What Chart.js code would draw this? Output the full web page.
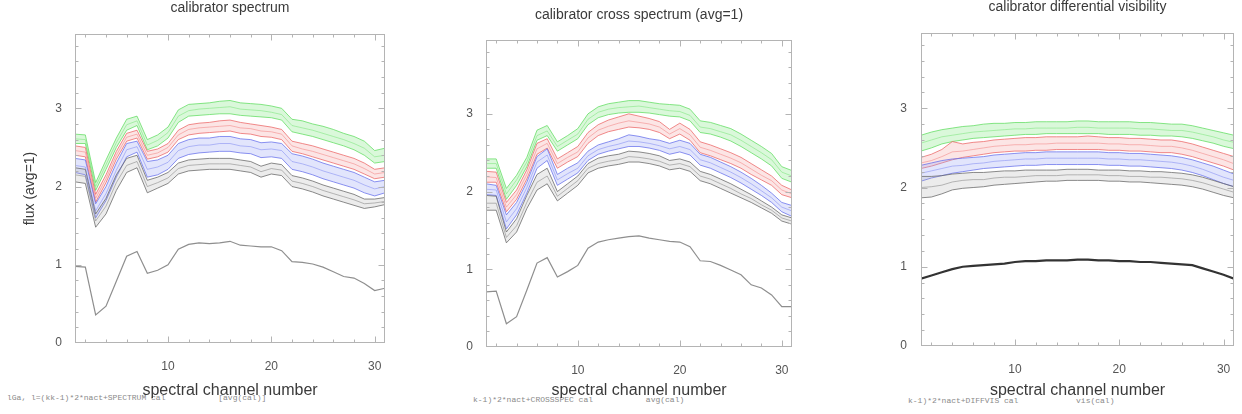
<!DOCTYPE html>
<html>
<head>
<meta charset="utf-8">
<script src="https://cdn.jsdelivr.net/npm/chart.js@4.4.1/dist/chart.umd.min.js"></script>
<style>
html, body { margin: 0; padding: 0; background: #fff; overflow: hidden; }
#wrap { position: relative; width: 1242px; height: 414px; }
.panel { position: absolute; top: 0; height: 414px; }
.note { position: absolute; font: 8px "Liberation Mono", "DejaVu Sans Mono", monospace; color: #8a8a8a; white-space: pre; }
</style>
</head>
<body>
<div id="wrap">
  <div class="note" style="left:7px;top:393px">lGa, l=(kk-1)*2*nact+SPECTRUM cal           [avg(cal)]</div>
  <div class="note" style="left:473px;top:395px">k-1)*2*nact+CROSSSPEC cal           avg(cal)</div>
  <div class="note" style="left:908px;top:396px">k-1)*2*nact+DIFFVIS cal            vis(cal)</div>
  <div class="panel" style="left:0;width:420px"><canvas id="c1" width="420" height="414"></canvas></div>
  <div class="panel" style="left:420px;width:420px"><canvas id="c2" width="420" height="414"></canvas></div>
  <div class="panel" style="left:840px;width:402px"><canvas id="c3" width="402" height="414"></canvas></div>
</div>
<script>
// spectral channels and axis labels
const channels = [1,2,3,4,5,6,7,8,9,10,11,12,13,14,15,16,17,18,19,20,21,22,23,24,25,26,27,28,29,30,31];
const xTickLabels = [10, 20, 30];
const yTickLabels = [0, 1, 2, 3];
const xTickMarks = [2,4,6,8,10,12,14,16,18,20,22,24,26,28,30];

// --- panel 1: calibrator spectrum (upper, middle, lower line of each colour band) ---
const specGreenHi = [2.67,2.66,2.05,2.34,2.62,2.86,2.90,2.60,2.66,2.76,2.98,3.05,3.06,3.07,3.09,3.10,3.07,3.06,3.05,3.03,3.00,2.86,2.84,2.80,2.77,2.73,2.68,2.64,2.58,2.46,2.49];
const specGreenMid = [2.61,2.60,2.00,2.28,2.56,2.79,2.84,2.53,2.59,2.69,2.90,2.97,2.99,3.00,3.01,3.02,2.99,2.98,2.97,2.95,2.92,2.78,2.75,2.72,2.68,2.64,2.60,2.55,2.49,2.38,2.40];
const specGreenLo = [2.55,2.55,1.95,2.22,2.50,2.72,2.78,2.47,2.52,2.62,2.82,2.90,2.91,2.92,2.93,2.93,2.91,2.90,2.89,2.88,2.85,2.70,2.67,2.64,2.60,2.56,2.52,2.47,2.40,2.30,2.32];
const specRedHi = [2.52,2.50,1.90,2.15,2.45,2.68,2.72,2.45,2.48,2.55,2.72,2.79,2.81,2.82,2.84,2.85,2.82,2.80,2.78,2.76,2.73,2.58,2.55,2.52,2.48,2.44,2.40,2.36,2.30,2.22,2.24];
const specRedMid = [2.46,2.44,1.85,2.10,2.40,2.63,2.67,2.40,2.43,2.50,2.66,2.73,2.75,2.76,2.77,2.78,2.75,2.74,2.71,2.70,2.67,2.52,2.48,2.45,2.41,2.37,2.33,2.29,2.23,2.16,2.18];
const specRedLo = [2.40,2.38,1.80,2.05,2.35,2.58,2.62,2.35,2.38,2.44,2.60,2.66,2.68,2.69,2.70,2.71,2.68,2.67,2.64,2.63,2.60,2.45,2.42,2.38,2.34,2.30,2.26,2.22,2.16,2.10,2.12];
const specBlueHi = [2.36,2.34,1.78,2.00,2.30,2.55,2.58,2.32,2.34,2.40,2.55,2.60,2.62,2.62,2.64,2.64,2.61,2.60,2.56,2.57,2.55,2.42,2.39,2.35,2.30,2.26,2.22,2.18,2.12,2.06,2.08];
const specBlueMid = [2.27,2.25,1.69,1.91,2.21,2.47,2.51,2.22,2.25,2.31,2.46,2.51,2.53,2.53,2.55,2.55,2.52,2.51,2.47,2.48,2.46,2.32,2.29,2.25,2.20,2.16,2.12,2.08,2.02,1.97,2.00];
const specBlueLo = [2.18,2.15,1.60,1.82,2.12,2.38,2.44,2.12,2.15,2.22,2.36,2.41,2.43,2.44,2.45,2.45,2.43,2.42,2.37,2.38,2.36,2.22,2.19,2.15,2.10,2.06,2.02,1.98,1.92,1.88,1.92];
const specBlackHi = [2.24,2.22,1.65,1.85,2.15,2.36,2.40,2.08,2.12,2.18,2.30,2.34,2.35,2.36,2.36,2.36,2.34,2.32,2.26,2.30,2.28,2.14,2.11,2.07,2.02,1.98,1.94,1.90,1.84,1.84,1.86];
const specBlackMid = [2.15,2.13,1.56,1.75,2.05,2.27,2.32,2.00,2.05,2.11,2.23,2.27,2.28,2.29,2.29,2.29,2.27,2.25,2.19,2.23,2.21,2.07,2.04,2.00,1.95,1.91,1.87,1.83,1.78,1.79,1.81];
const specBlackLo = [2.06,2.04,1.48,1.65,1.95,2.18,2.24,1.92,1.98,2.04,2.16,2.20,2.21,2.22,2.22,2.22,2.20,2.18,2.12,2.16,2.14,2.00,1.97,1.93,1.88,1.84,1.80,1.76,1.72,1.74,1.77];
const specLow = [0.98,0.97,0.36,0.47,0.79,1.11,1.17,0.89,0.93,1.00,1.20,1.26,1.28,1.27,1.28,1.30,1.25,1.24,1.23,1.23,1.18,1.04,1.03,1.01,0.97,0.91,0.85,0.83,0.76,0.67,0.70];

// --- panel 2: calibrator cross spectrum ---
const crossGreenHi = [2.42,2.42,2.04,2.21,2.44,2.79,2.85,2.64,2.72,2.81,3.00,3.09,3.13,3.15,3.17,3.17,3.15,3.13,3.12,3.11,3.06,2.91,2.89,2.85,2.81,2.74,2.66,2.58,2.49,2.32,2.27];
const crossGreenMid = [2.36,2.36,1.97,2.15,2.38,2.72,2.78,2.58,2.66,2.74,2.93,3.02,3.06,3.08,3.09,3.10,3.08,3.06,3.04,3.03,2.98,2.83,2.81,2.77,2.73,2.66,2.58,2.50,2.41,2.25,2.20];
const crossGreenLo = [2.30,2.30,1.90,2.08,2.32,2.66,2.72,2.52,2.60,2.68,2.86,2.95,2.99,3.01,3.02,3.02,3.01,2.99,2.97,2.96,2.91,2.76,2.74,2.70,2.65,2.58,2.50,2.42,2.33,2.17,2.12];
const crossRedHi = [2.26,2.25,1.86,2.02,2.28,2.62,2.68,2.42,2.50,2.58,2.76,2.86,2.92,2.96,3.00,2.97,2.94,2.90,2.80,2.88,2.80,2.64,2.60,2.55,2.50,2.44,2.36,2.28,2.20,2.08,2.02];
const crossRedMid = [2.19,2.18,1.80,1.96,2.22,2.55,2.62,2.36,2.44,2.51,2.69,2.79,2.84,2.88,2.91,2.89,2.87,2.83,2.74,2.81,2.73,2.57,2.53,2.48,2.43,2.37,2.29,2.21,2.14,2.02,1.97];
const crossRedLo = [2.12,2.12,1.74,1.90,2.16,2.48,2.56,2.30,2.38,2.45,2.62,2.72,2.77,2.80,2.83,2.82,2.80,2.76,2.68,2.74,2.66,2.50,2.46,2.41,2.36,2.30,2.22,2.15,2.08,1.96,1.92];
const crossBlueHi = [2.10,2.08,1.70,1.86,2.12,2.45,2.55,2.22,2.30,2.37,2.52,2.60,2.64,2.68,2.73,2.71,2.68,2.66,2.62,2.66,2.62,2.48,2.44,2.38,2.32,2.25,2.17,2.08,1.98,1.86,1.82];
const crossBlueMid = [2.03,2.02,1.61,1.78,2.05,2.38,2.47,2.15,2.23,2.30,2.46,2.54,2.58,2.61,2.65,2.64,2.62,2.59,2.55,2.58,2.54,2.41,2.37,2.31,2.25,2.18,2.10,2.01,1.92,1.80,1.75];
const crossBlueLo = [1.96,1.95,1.52,1.70,1.98,2.30,2.40,2.08,2.16,2.24,2.40,2.48,2.52,2.55,2.58,2.58,2.56,2.53,2.48,2.51,2.47,2.34,2.30,2.24,2.18,2.11,2.03,1.95,1.86,1.74,1.68];
const crossBlackHi = [1.95,1.94,1.48,1.65,1.95,2.22,2.30,2.00,2.10,2.20,2.36,2.43,2.46,2.48,2.52,2.51,2.49,2.46,2.40,2.42,2.38,2.26,2.22,2.16,2.10,2.03,1.96,1.88,1.80,1.70,1.66];
const crossBlackMid = [1.85,1.85,1.41,1.56,1.86,2.12,2.20,1.94,2.04,2.14,2.30,2.36,2.39,2.41,2.45,2.44,2.42,2.39,2.34,2.36,2.32,2.20,2.16,2.10,2.04,1.97,1.91,1.83,1.76,1.66,1.62];
const crossBlackLo = [1.76,1.76,1.34,1.48,1.78,2.02,2.10,1.88,1.98,2.08,2.24,2.30,2.33,2.35,2.38,2.38,2.36,2.33,2.28,2.30,2.26,2.14,2.10,2.04,1.98,1.92,1.86,1.79,1.72,1.62,1.58];
const crossLow = [0.71,0.72,0.30,0.39,0.73,1.08,1.15,0.90,0.97,1.05,1.27,1.35,1.38,1.40,1.42,1.43,1.40,1.38,1.36,1.35,1.29,1.11,1.10,1.05,0.99,0.93,0.80,0.76,0.67,0.52,0.52];

// --- panel 3: calibrator differential visibility ---
const visGreenHi = [2.66,2.70,2.73,2.75,2.77,2.78,2.80,2.81,2.81,2.82,2.82,2.83,2.83,2.83,2.83,2.84,2.84,2.83,2.83,2.83,2.83,2.82,2.82,2.81,2.80,2.80,2.78,2.75,2.72,2.69,2.66];
const visGreenMid = [2.56,2.60,2.64,2.66,2.68,2.70,2.71,2.72,2.73,2.74,2.74,2.75,2.75,2.75,2.75,2.76,2.76,2.75,2.75,2.75,2.75,2.74,2.74,2.73,2.72,2.72,2.70,2.67,2.64,2.60,2.57];
const visGreenLo = [2.46,2.50,2.55,2.58,2.60,2.62,2.63,2.64,2.65,2.66,2.67,2.67,2.68,2.68,2.68,2.68,2.68,2.68,2.67,2.67,2.67,2.66,2.66,2.65,2.65,2.64,2.62,2.59,2.56,2.52,2.49];
const visRedHi = [2.38,2.42,2.48,2.58,2.55,2.57,2.58,2.60,2.61,2.62,2.63,2.63,2.64,2.64,2.64,2.64,2.65,2.64,2.63,2.63,2.62,2.62,2.61,2.60,2.60,2.58,2.55,2.51,2.47,2.43,2.39];
const visRedMid = [2.31,2.34,2.39,2.45,2.46,2.48,2.50,2.52,2.53,2.54,2.54,2.55,2.55,2.56,2.56,2.56,2.56,2.56,2.55,2.55,2.54,2.54,2.53,2.52,2.52,2.50,2.47,2.43,2.39,2.35,2.30];
const visRedLo = [2.24,2.27,2.31,2.35,2.38,2.40,2.42,2.44,2.45,2.46,2.46,2.47,2.47,2.48,2.48,2.48,2.48,2.48,2.47,2.47,2.46,2.46,2.45,2.44,2.44,2.42,2.39,2.35,2.31,2.27,2.22];
const visBlueHi = [2.28,2.31,2.34,2.36,2.37,2.38,2.39,2.41,2.42,2.43,2.44,2.44,2.45,2.45,2.45,2.45,2.45,2.45,2.44,2.44,2.43,2.43,2.42,2.41,2.40,2.38,2.35,2.31,2.27,2.22,2.17];
const visBlueMid = [2.18,2.21,2.24,2.27,2.28,2.30,2.31,2.33,2.34,2.35,2.36,2.36,2.37,2.37,2.37,2.37,2.37,2.37,2.36,2.36,2.35,2.35,2.34,2.33,2.32,2.30,2.27,2.23,2.18,2.13,2.09];
const visBlueLo = [2.08,2.12,2.15,2.18,2.20,2.22,2.24,2.25,2.26,2.27,2.28,2.28,2.29,2.29,2.29,2.29,2.29,2.29,2.28,2.28,2.27,2.27,2.26,2.25,2.24,2.22,2.19,2.15,2.10,2.05,2.01];
const visBlackHi = [2.14,2.14,2.15,2.17,2.18,2.19,2.19,2.20,2.21,2.21,2.22,2.22,2.22,2.22,2.23,2.23,2.23,2.22,2.22,2.22,2.21,2.21,2.20,2.20,2.19,2.18,2.16,2.13,2.09,2.05,2.01];
const visBlackMid = [2.00,2.01,2.03,2.07,2.09,2.10,2.10,2.12,2.13,2.13,2.14,2.15,2.15,2.15,2.16,2.16,2.16,2.16,2.15,2.15,2.14,2.14,2.13,2.13,2.12,2.11,2.09,2.06,2.02,1.98,1.94];
const visBlackLo = [1.87,1.88,1.92,1.97,1.99,2.00,2.01,2.03,2.04,2.05,2.06,2.07,2.08,2.08,2.09,2.09,2.09,2.09,2.08,2.08,2.07,2.07,2.06,2.05,2.04,2.03,2.01,1.98,1.94,1.90,1.87];
const visLow = [0.85,0.89,0.93,0.97,1.00,1.01,1.02,1.03,1.04,1.06,1.07,1.07,1.08,1.08,1.08,1.09,1.09,1.08,1.08,1.07,1.07,1.06,1.06,1.05,1.04,1.03,1.02,0.98,0.94,0.90,0.85];

const FONT = '"Liberation Sans", Arial, Helvetica, sans-serif';

const colours = {
    black: { line: 'rgba(100,100,100,0.75)', mid: 'rgba(120,120,120,0.55)', fill: 'rgba(170,170,170,0.22)' },
    blue:  { line: 'rgba(100,110,235,0.75)', mid: 'rgba(120,130,240,0.55)', fill: 'rgba(150,160,245,0.28)' },
    red:   { line: 'rgba(235,100,100,0.75)', mid: 'rgba(240,120,120,0.55)', fill: 'rgba(245,160,160,0.28)' },
    green: { line: 'rgba(95,220,95,0.75)', mid: 'rgba(110,225,110,0.55)', fill: 'rgba(150,235,150,0.35)' }
};

function pts(values) {
    return values.map((v, i) => ({ x: channels[i], y: v }));
}

// edge lines with the space between them filled, plus a middle line
function band(hi, mid, lo, c) {
    return [
        { data: pts(hi), borderColor: c.line, borderWidth: 1, fill: false },
        { data: pts(lo), borderColor: c.line, borderWidth: 1, fill: '-1', backgroundColor: c.fill },
        { data: pts(mid), borderColor: c.mid, borderWidth: 1, fill: false }
    ];
}

// IDL-style box with inward ticks, plus the panel title
const idlFrame = {
    id: 'idlFrame',
    afterDatasetsDraw(chart, args, opts) {
        const { ctx, chartArea: a, scales: { x, y } } = chart;
        ctx.save();
        ctx.strokeStyle = '#b4b4b4';
        ctx.lineWidth = 1;
        const L = Math.round(a.left) + 0.5, R = Math.round(a.right) - 0.5;
        const T = Math.round(a.top) + 0.5, B = Math.round(a.bottom) - 0.5;
        ctx.strokeRect(L, T, R - L, B - T);
        ctx.beginPath();
        xTickMarks.forEach(v => {
            const px = Math.round(x.getPixelForValue(v)) + 0.5;
            const len = v % 10 === 0 ? 6 : 3;
            ctx.moveTo(px, B); ctx.lineTo(px, B - len);
            ctx.moveTo(px, T); ctx.lineTo(px, T + len);
        });
        for (let k = 1; k < 20; k++) {
            const py = Math.round(y.getPixelForValue(k * 0.2)) + 0.5;
            const len = k % 5 === 0 ? 6 : 3;
            ctx.moveTo(L, py); ctx.lineTo(L + len, py);
            ctx.moveTo(R, py); ctx.lineTo(R - len, py);
        }
        ctx.stroke();
        ctx.fillStyle = '#3a3a3a';
        ctx.font = '14px ' + FONT;
        ctx.textAlign = 'center';
        ctx.textBaseline = 'middle';
        ctx.fillText(opts.title, (a.left + a.right) / 2, opts.titleY);
        ctx.restore();
    }
};

function makePanel(id, cfg) {
    const datasets = [
        { data: pts(cfg.low), borderColor: cfg.lowColour, borderWidth: cfg.lowWidth, fill: false },
        ...band(cfg.blackHi, cfg.blackMid, cfg.blackLo, colours.black),
        ...band(cfg.blueHi, cfg.blueMid, cfg.blueLo, colours.blue),
        ...band(cfg.redHi, cfg.redMid, cfg.redLo, colours.red),
        ...band(cfg.greenHi, cfg.greenMid, cfg.greenLo, colours.green)
    ];
    datasets.forEach(d => { d.pointRadius = 0; d.tension = 0; });

    return new Chart(document.getElementById(id), {
        type: 'line',
        data: { datasets: datasets },
        plugins: [idlFrame],
        options: {
            responsive: false,
            animation: false,
            layout: { padding: cfg.padding },
            plugins: {
                legend: { display: false },
                tooltip: { enabled: false },
                idlFrame: { title: cfg.title, titleY: cfg.titleY }
            },
            scales: {
                x: {
                    type: 'linear',
                    min: 1,
                    max: 31,
                    grid: { display: false },
                    border: { display: false },
                    afterBuildTicks: s => { s.ticks = xTickLabels.map(v => ({ value: v })); },
                    afterFit: s => { s.height = cfg.xHeight; },
                    ticks: { color: '#555', font: { size: 12, family: FONT }, padding: 8, maxRotation: 0 },
                    title: {
                        display: true,
                        text: 'spectral channel number',
                        color: '#3a3a3a',
                        font: { size: 16, family: FONT },
                        padding: { top: 0, bottom: 14 }
                    }
                },
                y: {
                    type: 'linear',
                    min: 0,
                    max: 3.95,
                    grid: { display: false },
                    border: { display: false },
                    afterBuildTicks: s => { s.ticks = yTickLabels.map(v => ({ value: v })); },
                    afterFit: s => { s.width = cfg.yWidth; },
                    ticks: { color: '#555', font: { size: 12, family: FONT }, padding: cfg.yPad },
                    title: {
                        display: !!cfg.yTitle,
                        text: cfg.yTitle || '',
                        color: '#3a3a3a',
                        font: { size: 14, family: FONT },
                        padding: { top: 22, bottom: 0 }
                    }
                }
            }
        }
    });
}

makePanel('c1', {
    title: 'calibrator spectrum', titleY: 8, yTitle: 'flux (avg=1)',
    padding: { left: 0, right: 35, top: 34, bottom: 0 }, yWidth: 75, xHeight: 71, yPad: 5,
    low: specLow, lowColour: 'rgba(130,130,130,0.9)', lowWidth: 1.2,
    greenHi: specGreenHi, greenMid: specGreenMid, greenLo: specGreenLo,
    redHi: specRedHi, redMid: specRedMid, redLo: specRedLo,
    blueHi: specBlueHi, blueMid: specBlueMid, blueLo: specBlueLo,
    blackHi: specBlackHi, blackMid: specBlackMid, blackLo: specBlackLo
});

makePanel('c2', {
    title: 'calibrator cross spectrum (avg=1)', titleY: 15,
    padding: { left: 0, right: 48, top: 40, bottom: 0 }, yWidth: 66, xHeight: 67, yPad: 5,
    low: crossLow, lowColour: 'rgba(130,130,130,0.9)', lowWidth: 1.2,
    greenHi: crossGreenHi, greenMid: crossGreenMid, greenLo: crossGreenLo,
    redHi: crossRedHi, redMid: crossRedMid, redLo: crossRedLo,
    blueHi: crossBlueHi, blueMid: crossBlueMid, blueLo: crossBlueLo,
    blackHi: crossBlackHi, blackMid: crossBlackMid, blackLo: crossBlackLo
});

makePanel('c3', {
    title: 'calibrator differential visibility', titleY: 7,
    padding: { left: 0, right: 8, top: 33, bottom: 0 }, yWidth: 81, xHeight: 68, yPad: 6,
    low: visLow, lowColour: 'rgba(40,40,40,0.95)', lowWidth: 2.2,
    greenHi: visGreenHi, greenMid: visGreenMid, greenLo: visGreenLo,
    redHi: visRedHi, redMid: visRedMid, redLo: visRedLo,
    blueHi: visBlueHi, blueMid: visBlueMid, blueLo: visBlueLo,
    blackHi: visBlackHi, blackMid: visBlackMid, blackLo: visBlackLo
});
</script>
</body>
</html>
